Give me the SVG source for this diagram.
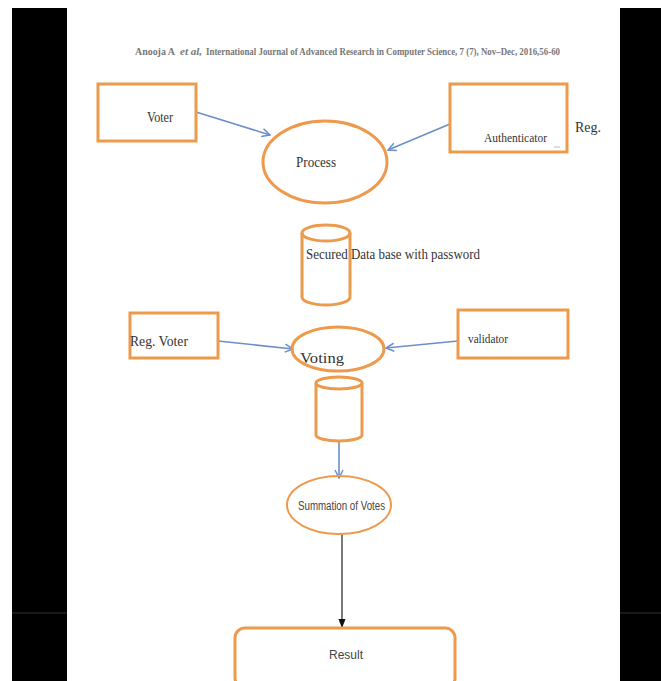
<svg xmlns="http://www.w3.org/2000/svg" width="661" height="681" viewBox="0 0 661 681">
<style>
.box{fill:none;stroke:#EE9A4D;stroke-width:3}
.thin{fill:none;stroke:#EE9A4D;stroke-width:2}
.serif{font-family:"Liberation Serif",serif;fill:#333}
.hdr{font-family:"Liberation Serif",serif;fill:#777;font-size:10.5px;font-weight:bold}
.sans{font-family:"Liberation Sans",Arial,sans-serif;fill:#444}
.blue{stroke:#6C8FC9;stroke-width:1.6;fill:none}
</style>
<defs>
<marker id="open" viewBox="0 0 10 10" refX="9" refY="5" markerWidth="10" markerHeight="10" markerUnits="userSpaceOnUse" orient="auto">
<path d="M1,1 L9,5 L1,9" fill="none" stroke="#6C8FC9" stroke-width="1.5"/>
</marker>
<marker id="solid" viewBox="0 0 10 10" refX="9" refY="5" markerWidth="9" markerHeight="9" markerUnits="userSpaceOnUse" orient="auto">
<path d="M0,1 L10,5 L0,9 Z" fill="#111"/>
</marker>
</defs>
<rect x="0" y="0" width="661" height="681" fill="#fff"/>
<g id="bars">
<rect x="12" y="8" width="55" height="673" fill="#000"/>
<rect x="620" y="8" width="41" height="673" fill="#000"/>
<line x1="12" y1="613" x2="67" y2="613" stroke="#333" stroke-width="1"/>
<line x1="620" y1="613" x2="661" y2="613" stroke="#333" stroke-width="1"/>
</g>
<g id="header">
<text class="hdr" x="135" y="55" textLength="40" lengthAdjust="spacingAndGlyphs">Anooja A</text>
<text class="hdr" x="180" y="55" font-style="italic" textLength="22" lengthAdjust="spacingAndGlyphs">et al,</text>
<text class="hdr" x="206" y="55" textLength="354" lengthAdjust="spacingAndGlyphs">International Journal of Advanced Research in Computer Science, 7 (7), Nov–Dec, 2016,56-60</text>
</g>
<g id="connectors">
<line class="blue" x1="196" y1="112" x2="270" y2="135" marker-end="url(#open)"/>
<line class="blue" x1="450" y1="124" x2="388" y2="150" marker-end="url(#open)"/>
<line class="blue" x1="218" y1="341" x2="293" y2="349" marker-end="url(#open)"/>
<line class="blue" x1="458" y1="341" x2="386" y2="348" marker-end="url(#open)"/>
<line class="blue" x1="339" y1="441" x2="339" y2="478" marker-end="url(#open)"/>
<line x1="342" y1="534" x2="342" y2="627" stroke="#222" stroke-width="1.2" marker-end="url(#solid)"/>
</g>
<g id="voter">
<rect class="box" x="98" y="84" width="98" height="57"/>
<text class="serif" x="147" y="122" font-size="14" textLength="26" lengthAdjust="spacingAndGlyphs">Voter</text>
</g>
<g id="process">
<ellipse class="box" cx="325" cy="162" rx="62" ry="41"/>
<text class="serif" x="296" y="167" font-size="14" textLength="40" lengthAdjust="spacingAndGlyphs">Process</text>
</g>
<g id="authenticator">
<rect class="box" x="450" y="84" width="117" height="68"/>
<text class="serif" x="484" y="142" font-size="13" textLength="63" lengthAdjust="spacingAndGlyphs">Authenticator</text>
<line x1="554" y1="147" x2="560" y2="147" stroke="#bbb" stroke-width="1"/>
</g>
<text id="reg" class="serif" x="575" y="132" font-size="14">Reg.</text>
<g id="database1">
<path class="box" d="M302,233 L302,297 A24,8 0 0 0 350,297 L350,233"/>
<ellipse class="box" cx="326" cy="233" rx="24" ry="8"/>
<text class="serif" x="306" y="259" font-size="14" textLength="174" lengthAdjust="spacingAndGlyphs">Secured Data base with password</text>
</g>
<g id="regvoter">
<rect class="box" x="130" y="313" width="88" height="45"/>
<text class="serif" x="130" y="346" font-size="14" textLength="58" lengthAdjust="spacingAndGlyphs">Reg. Voter</text>
</g>
<g id="validator">
<rect class="box" x="458" y="310" width="110" height="48"/>
<text class="serif" x="468" y="343" font-size="13" textLength="40" lengthAdjust="spacingAndGlyphs">validator</text>
</g>
<g id="voting">
<ellipse class="box" cx="338" cy="349" rx="46" ry="22"/>
<text class="serif" x="300" y="363" font-size="15" textLength="44" lengthAdjust="spacingAndGlyphs">Voting</text>
</g>
<g id="database2">
<path class="box" d="M316,383 L316,435 A23,6 0 0 0 362,435 L362,383"/>
<ellipse class="box" cx="339" cy="383" rx="23" ry="6"/>
</g>
<g id="summation">
<ellipse class="thin" cx="339" cy="505" rx="52" ry="29"/>
<text class="sans" x="298" y="510" font-size="12" textLength="87" lengthAdjust="spacingAndGlyphs">Summation of Votes</text>
</g>
<g id="result">
<rect class="box" x="235" y="628" width="220" height="60" rx="10"/>
<text class="sans" x="346" y="659" font-size="12" text-anchor="middle">Result</text>
</g>
</svg>
